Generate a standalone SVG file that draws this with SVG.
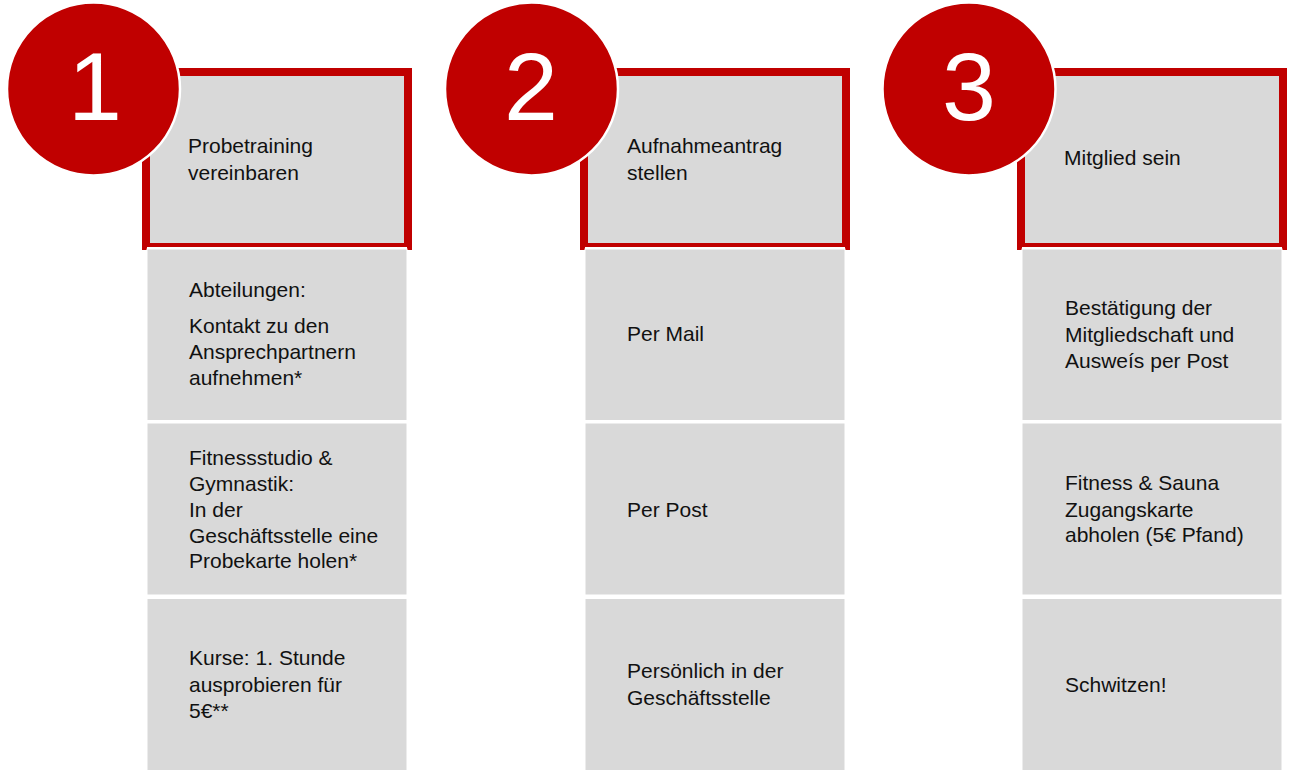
<svg xmlns="http://www.w3.org/2000/svg" width="1293" height="770" viewBox="0 0 1293 770">
<style>
.frame{fill:#C00000}
.head{fill:#D9D9D9}
.box{fill:#D9D9D9;stroke:#FFFFFF;stroke-width:1}
.circ{fill:#C00000;stroke:#FFFFFF;stroke-width:2.5}
.num{font-family:"Liberation Sans",Arial,sans-serif;font-size:97px;fill:#FFFFFF;text-anchor:middle}
.t{font-family:"Liberation Sans",Arial,sans-serif;font-size:21px;fill:#111111}
</style>
<rect width="1293" height="770" fill="#FFFFFF"/>
<g id="step1">
  <rect class="frame" x="142" y="68" width="270" height="182"/>
  <rect class="head" x="150" y="76" width="254" height="167"/>
  <rect x="147" y="247" width="260" height="3" fill="#FFFFFF"/>
  <text class="t"><tspan x="188" y="153">Probetraining</tspan><tspan x="188" y="180">vereinbaren</tspan></text>
  <circle class="circ" cx="93.5" cy="89" r="86.5"/>
  <text class="num" x="95" y="120">1</text>
</g>
<g id="step1-a">
  <rect class="box" x="147" y="249" width="260" height="171.5"/>
  <text class="t"><tspan x="189" y="297">Abteilungen:</tspan><tspan x="189" y="333">Kontakt zu den</tspan><tspan x="189" y="359">Ansprechpartnern</tspan><tspan x="189" y="385">aufnehmen*</tspan></text>
</g>
<g id="step1-b">
  <rect class="box" x="147" y="423" width="260" height="172"/>
  <text class="t"><tspan x="189" y="465">Fitnessstudio &amp;</tspan><tspan x="189" y="491">Gymnastik:</tspan><tspan x="189" y="517">In der</tspan><tspan x="189" y="543">Geschäftsstelle eine</tspan><tspan x="189" y="568">Probekarte holen*</tspan></text>
</g>
<g id="step1-c">
  <rect class="box" x="147" y="598.5" width="260" height="172"/>
  <text class="t"><tspan x="189" y="665">Kurse: 1. Stunde</tspan><tspan x="189" y="692">ausprobieren für</tspan><tspan x="189" y="718">5€**</tspan></text>
</g>
<g id="step2">
  <rect class="frame" x="580" y="68" width="270" height="182"/>
  <rect class="head" x="588" y="76" width="254" height="167"/>
  <rect x="585" y="247" width="260" height="3" fill="#FFFFFF"/>
  <text class="t"><tspan x="627" y="153">Aufnahmeantrag</tspan><tspan x="627" y="180">stellen</tspan></text>
  <circle class="circ" cx="531.5" cy="89" r="86.5"/>
  <text class="num" x="531" y="120">2</text>
</g>
<g id="step2-a">
  <rect class="box" x="585" y="249" width="260" height="171.5"/>
  <text class="t" x="627" y="341">Per Mail</text>
</g>
<g id="step2-b">
  <rect class="box" x="585" y="423" width="260" height="172"/>
  <text class="t" x="627" y="517">Per Post</text>
</g>
<g id="step2-c">
  <rect class="box" x="585" y="598.5" width="260" height="172"/>
  <text class="t"><tspan x="627" y="678">Persönlich in der</tspan><tspan x="627" y="705">Geschäftsstelle</tspan></text>
</g>
<g id="step3">
  <rect class="frame" x="1017" y="68" width="270" height="182"/>
  <rect class="head" x="1025" y="76" width="254" height="167"/>
  <rect x="1022" y="247" width="260" height="3" fill="#FFFFFF"/>
  <text class="t" x="1064" y="165">Mitglied sein</text>
  <circle class="circ" cx="969" cy="89" r="86.5"/>
  <text class="num" x="969" y="120">3</text>
</g>
<g id="step3-a">
  <rect class="box" x="1022" y="249" width="260" height="171.5"/>
  <text class="t"><tspan x="1065" y="315">Bestätigung der</tspan><tspan x="1065" y="342">Mitgliedschaft und</tspan><tspan x="1065" y="368">Ausweís per Post</tspan></text>
</g>
<g id="step3-b">
  <rect class="box" x="1022" y="423" width="260" height="172"/>
  <text class="t"><tspan x="1065" y="490">Fitness &amp; Sauna</tspan><tspan x="1065" y="517">Zugangskarte</tspan><tspan x="1065" y="542">abholen (5€ Pfand)</tspan></text>
</g>
<g id="step3-c">
  <rect class="box" x="1022" y="598.5" width="260" height="172"/>
  <text class="t" x="1065" y="692">Schwitzen!</text>
</g>
<g id="connectors"></g>
</svg>
